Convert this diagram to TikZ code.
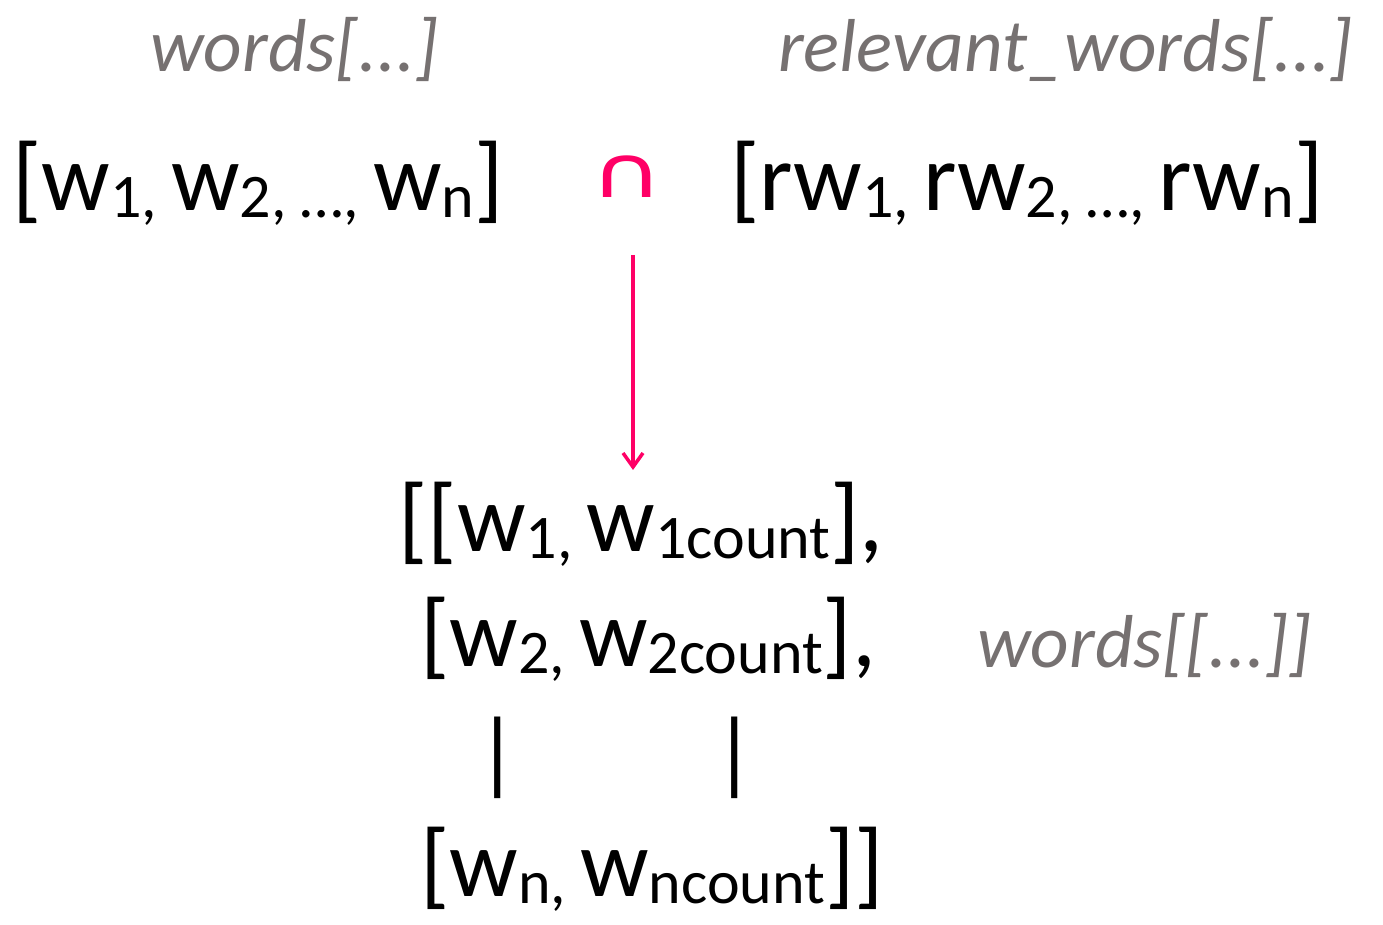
\documentclass[tikz,border=0pt]{standalone}
\usepackage{fontspec}
\setmainfont{Carlito}
\newfontfamily\symfont{DejaVu Sans}
\usetikzlibrary{arrows.meta}
\definecolor{lblgray}{RGB}{118,113,113}
\definecolor{pinkc}{RGB}{255,0,102}
\newcommand\subs[1]{{\fontsize{62}{62}\selectfont\raisebox{-0.11em}{#1}}}
\begin{document}
\begin{tikzpicture}[x=1pt,y=1pt,
 big/.style={anchor=base west, inner sep=0pt, font=\fontsize{96}{96}\selectfont},
 lbl/.style={anchor=base west, inner sep=0pt, text=lblgray, font=\fontsize{75}{75}\selectfont\itshape},
 bar/.style={anchor=center, inner sep=0pt, font=\fontsize{92}{92}\selectfont},
 conn/.style={draw=pinkc, line width=3.5pt, -{Straight Barb[length=14pt,width=20pt]}}]
\useasboundingbox (0,0) rectangle (1383,925);
\node[lbl] (lblw) at (150,853) {words[...]};
\node[lbl] (lblrw) at (778,853) {relevant\_words[...]};
\node[big] (wl) at (12,714) {[w\subs{1, }w\subs{2, …, }w\subs{n}]};
\node[anchor=base west, inner sep=0pt, text=pinkc, font=\symfont\fontsize{100}{100}\selectfont] (cap) at (590,727) {\scalebox{1}[0.72]{∩}};
\node[big] (rwl) at (730,714) {[rw\subs{1, }rw\subs{2, …, }rw\subs{n}]};
\coordinate (a1) at (633,670);
\coordinate (a2) at (633,455);
\draw[conn] (a1) -- (a2);
\node[big] (l1) at (398,373) {[[w\subs{1, }w\subs{1count}],};
\node[big] (l2) at (420,258) {[w\subs{2, }w\subs{2count}],};
\node[lbl] (lbl3) at (977,257) {words[[...]]};
\node[bar] (b1) at (498,167) {|};
\node[bar] (b2) at (735,167) {|};
\node[big] (l3) at (420,28) {[w\subs{n, }w\subs{ncount}]]};
\end{tikzpicture}
\end{document}
